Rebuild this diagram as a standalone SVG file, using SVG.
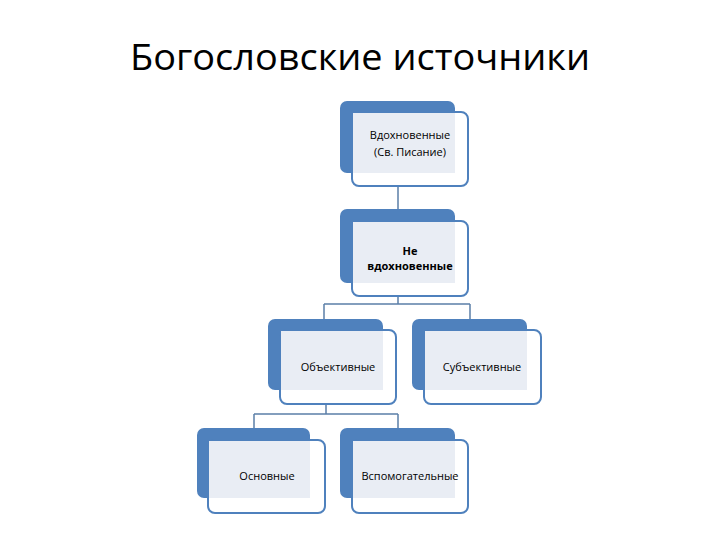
<svg xmlns="http://www.w3.org/2000/svg" width="720" height="540" viewBox="0 0 720 540">
<style>
.b{fill:#4f81bd}
.c{fill:#ffffff;stroke:#4f81bd;stroke-width:2}
.l{fill:#e9edf4}
.t{font-family:"Open Sans","DejaVu Sans",sans-serif;font-size:11px;fill:#000;text-anchor:middle}
.k{fill:none;stroke:#5b7fa8;stroke-width:1.5}
</style>
<rect width="720" height="540" fill="#fff"/>
<text x="360" y="70" font-family="Open Sans, DejaVu Sans, sans-serif" font-size="36" text-anchor="middle" textLength="460" lengthAdjust="spacingAndGlyphs">Богословские источники</text>
<g id="connectors">
<path class="k" d="M398 186V209M398 296V304M324 304H470M324 304V319M470 304V319M326 404V414M254 414H398M254 414V428M398 414V428"/>
</g>
<g id="n1"><rect class="b" x="340" y="101" width="115" height="72" rx="7"/><rect class="c" x="352" y="112" width="116" height="74" rx="7"/><rect class="l" x="353" y="113" width="102" height="60"/><text class="t" x="410" y="139">Вдохновенные</text><text class="t" x="410" y="156">(Св. Писание)</text></g>
<g id="n2"><rect class="b" x="340" y="209" width="115" height="74" rx="7"/><rect class="c" x="352" y="221" width="116" height="75" rx="7"/><rect class="l" x="353" y="222" width="102" height="61"/><text class="t" x="410" y="255" font-weight="bold">Не</text><text class="t" x="410" y="270" font-weight="bold">вдохновенные</text></g>
<g id="n3"><rect class="b" x="268" y="319" width="115" height="71" rx="7"/><rect class="c" x="280" y="330" width="116" height="74" rx="7"/><rect class="l" x="281" y="331" width="102" height="59"/><text class="t" x="338" y="371">Объективные</text></g>
<g id="n4"><rect class="b" x="412" y="319" width="115" height="71" rx="7"/><rect class="c" x="424" y="330" width="117" height="74" rx="7"/><rect class="l" x="425" y="331" width="102" height="59"/><text class="t" x="482" y="371">Субъективные</text></g>
<g id="n5"><rect class="b" x="197" y="428" width="113" height="70" rx="7"/><rect class="c" x="208" y="440" width="117" height="73" rx="7"/><rect class="l" x="209" y="441" width="101" height="57"/><text class="t" x="267" y="480">Основные</text></g>
<g id="n6"><rect class="b" x="340" y="428" width="115" height="70" rx="7"/><rect class="c" x="352" y="440" width="116" height="73" rx="7"/><rect class="l" x="353" y="441" width="102" height="57"/><text class="t" x="410" y="480">Вспомогательные</text></g>
</svg>
